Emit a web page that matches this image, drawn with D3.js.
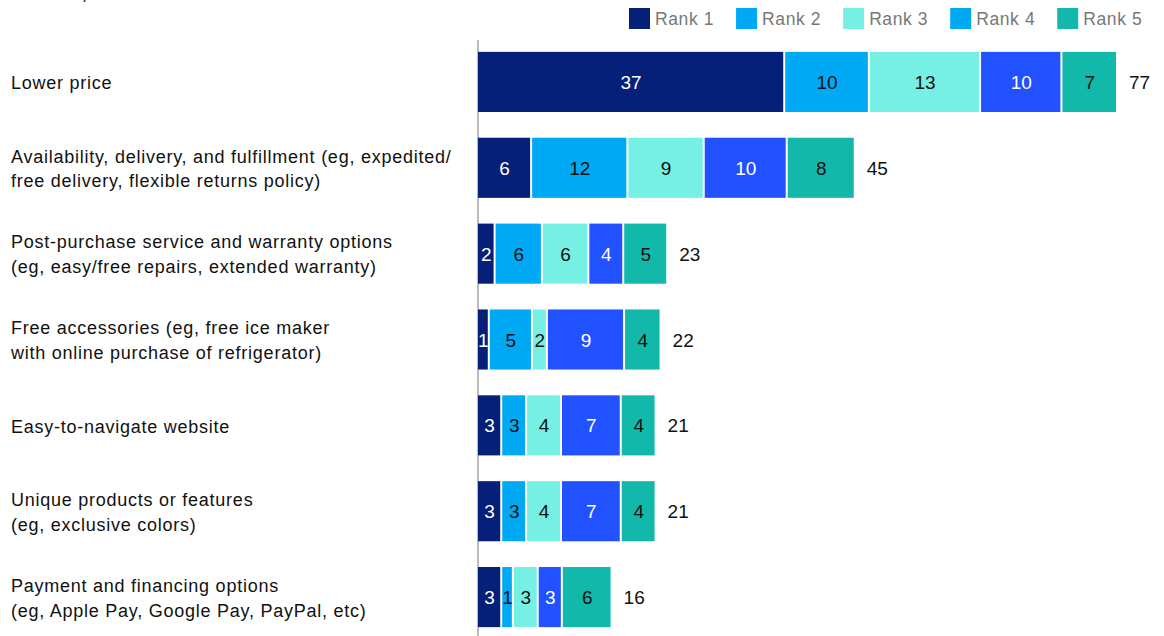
<!DOCTYPE html>
<html lang="en">
<head>
	<meta charset="UTF-8">
	<title>Chart</title>
	<style type="text/css">
		body { margin: 0; background: #fff; }
		svg { display: block; font-family: "Liberation Sans", Arial, sans-serif; }
	</style>
</head>
<body>
	<script type="text/javascript" src="https://cdn.jsdelivr.net/npm/d3@7"></script>
	<script type="text/javascript">
		var categories = [
			['Lower price'],
			['Availability, delivery, and fulfillment (eg, expedited/', 'free delivery, flexible returns policy)'],
			['Post-purchase service and warranty options', '(eg, easy/free repairs, extended warranty)'],
			['Free accessories (eg, free ice maker', 'with online purchase of refrigerator)'],
			['Easy-to-navigate website'],
			['Unique products or features', '(eg, exclusive colors)'],
			['Payment and financing options', '(eg, Apple Pay, Google Pay, PayPal, etc)']
		];
		// segment sizes; labels show them rounded
		var rank1 = [36.9, 6.4, 2.0, 1.3, 2.8, 2.8, 2.8];
		var rank2 = [10.2, 11.6, 5.7, 5.2, 3.0, 3.0, 1.4];
		var rank3 = [13.4, 9.2, 5.6, 1.8, 4.2, 4.2, 3.0];
		var rank4 = [9.8, 10.0, 4.2, 9.3, 7.2, 7.2, 2.9];
		var rank5 = [6.7, 8.2, 5.3, 4.4, 4.2, 4.2, 6.0];
		var totals = [77, 45, 23, 22, 21, 21, 16];
		var seriesNames = ['Rank 1', 'Rank 2', 'Rank 3', 'Rank 4', 'Rank 5'];

		var barColors = ['#061f79', '#00a9f4', '#76f0e5', '#2251ff', '#12b9aa'];
		var legendColors = ['#061f79', '#00a9f4', '#76f0e5', '#00a9f4', '#12b9aa'];
		var textColors = ['#fff', '#111', '#111', '#fff', '#111'];

		var w = 1164, h = 636;
		var svg = d3.select('body').append('svg')
			.attr('width', w)
			.attr('height', h);

		var series = [rank1, rank2, rank3, rank4, rank5];

		var x = d3.scaleLinear()
			.domain([0, 77])
			.range([478, 1117]);

		var y = d3.scaleBand()
			.domain(d3.range(categories.length))
			.range([39, 640])
			.paddingInner(0.3)
			.paddingOuter(0.15);

		// subtitle, cut off at the top like the source
		svg.append('text')
			.attr('x', 11)
			.attr('y', -2)
			.attr('font-size', '18px')
			.attr('letter-spacing', '0.7px')
			.attr('fill', '#333')
			.text('% of respondents');

		// legend
		var lx = 629;
		seriesNames.forEach(function (name, i) {
			svg.append('rect')
				.attr('x', lx).attr('y', 8)
				.attr('width', 21).attr('height', 21)
				.attr('fill', legendColors[i]);
			var t = svg.append('text')
				.attr('x', lx + 26)
				.attr('y', 25)
				.attr('font-size', '17.5px')
				.attr('letter-spacing', '0.6px')
				.attr('fill', '#777')
				.text(name);
			lx += 26 + t.node().getComputedTextLength() + 22;
		});

		// axis line
		svg.append('line')
			.attr('x1', 478).attr('x2', 478)
			.attr('y1', 40).attr('y2', h)
			.attr('stroke', '#bbb')
			.attr('stroke-width', 2);

		// stacked segments
		var stack = d3.stack()
			.keys(d3.range(series.length))
			.value(function (d, k) { return series[k][d]; });
		var stacked = stack(d3.range(categories.length));

		var layers = svg.selectAll('g.layer')
			.data(stacked)
			.enter()
			.append('g')
			.attr('class', 'layer');

		layers.selectAll('rect')
			.data(function (d) { return d.map(function (p) { return {p: p, k: d.key}; }); })
			.enter()
			.append('rect')
			.attr('x', function (d) { return x(d.p[0]) + (d.k === 0 ? 0 : 1); })
			.attr('y', function (d) { return y(d.p.data); })
			.attr('width', function (d) { return Math.max(0, x(d.p[1]) - x(d.p[0]) - (d.k === 0 ? 1 : 2)); })
			.attr('height', y.bandwidth())
			.attr('fill', function (d) { return barColors[d.k]; });

		layers.selectAll('text')
			.data(function (d) { return d.map(function (p) { return {p: p, k: d.key}; }); })
			.enter()
			.append('text')
			.attr('x', function (d) { return (x(d.p[0]) + x(d.p[1])) / 2 + (d.k === 0 ? 0 : 0.5); })
			.attr('y', function (d) { return y(d.p.data) + y.bandwidth() / 2; })
			.attr('dy', '0.37em')
			.attr('text-anchor', 'middle')
			.attr('font-size', '19px')
			.attr('fill', function (d) { return textColors[d.k]; })
			.text(function (d) { return Math.round(series[d.k][d.p.data]); });

		// totals
		var ends = stacked[stacked.length - 1];
		svg.selectAll('text.total')
			.data(totals)
			.enter()
			.append('text')
			.attr('class', 'total')
			.attr('x', function (d, i) { return x(ends[i][1]) + 12; })
			.attr('y', function (d, i) { return y(i) + y.bandwidth() / 2; })
			.attr('dy', '0.37em')
			.attr('font-size', '19px')
			.attr('fill', '#111')
			.text(function (d) { return d; });

		// category labels
		var labels = svg.selectAll('text.cat')
			.data(categories)
			.enter()
			.append('text')
			.attr('class', 'cat')
			.attr('font-size', '18px')
			.attr('letter-spacing', '0.75px')
			.attr('fill', '#111')
			.attr('y', function (d, i) { return y(i) + y.bandwidth() / 2; });

		labels.selectAll('tspan')
			.data(function (d) { return d.map(function (s, j) { return {s: s, j: j, n: d.length}; }); })
			.enter()
			.append('tspan')
			.attr('x', 11)
			.attr('dy', function (d) {
				if (d.j === 0) return (0.4 - (d.n - 1) * 1.38 / 2) + 'em';
				return '1.38em';
			})
			.text(function (d) { return d.s; });
	</script>
</body>
</html>
